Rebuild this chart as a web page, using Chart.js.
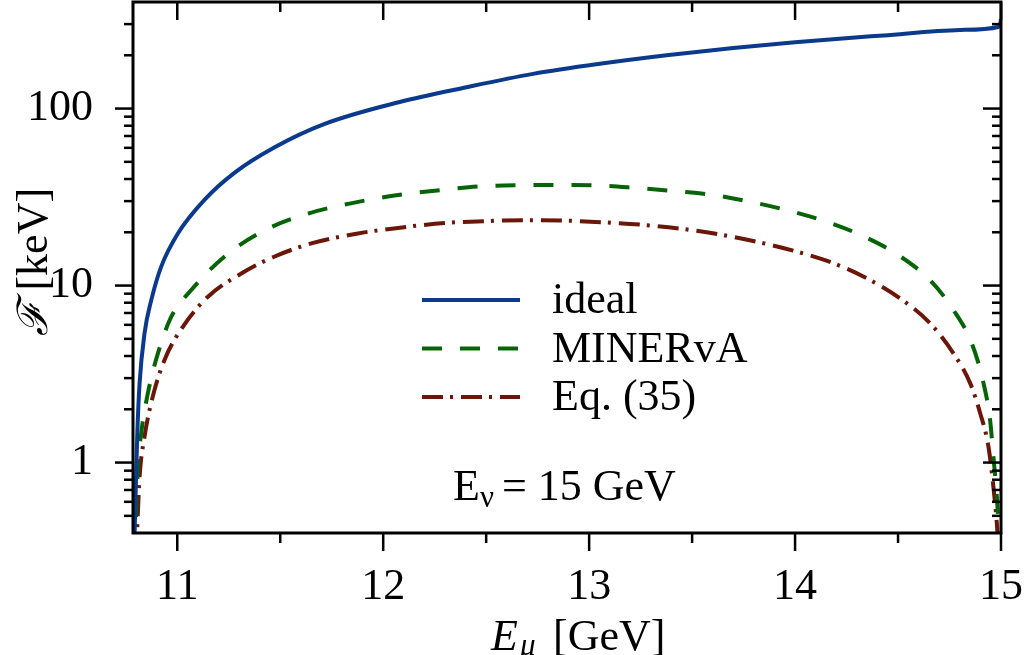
<!DOCTYPE html>
<html>
<head>
<meta charset="utf-8">
<title>F vs E_mu</title>
<script src="https://cdn.jsdelivr.net/npm/chart.js@4.4.1/dist/chart.umd.min.js"></script>
<style>
  html, body { margin: 0; padding: 0; background: #fff; }
  #wrap { width: 1026px; height: 655px; }
</style>
</head>
<body>
<div id="wrap"><canvas id="chart" width="1026" height="655"></canvas></div>
<script>
// E_nu = 15 GeV, F in keV
const idealE = [10.790, 10.797, 10.806, 10.817, 10.841, 10.874, 10.922, 11.003, 11.133, 11.279, 11.473, 11.716,
                12.080, 12.404, 12.728, 13.052, 13.376, 13.700, 14.000, 14.430, 14.800, 14.987, 14.996, 15.000];
const idealF = [0.30, 0.62, 1.47, 2.8, 5.37, 8.3, 12.8, 19.7, 30.6, 43.5, 60.5, 82,
                109, 132, 157, 179, 200, 220, 237, 259, 278, 289, 300, 320];

const minervaE = [10.795, 10.801, 10.809, 10.825, 10.857, 10.906, 10.971, 11.068, 11.230, 11.424, 11.635, 11.878,
                  12.064, 12.307, 12.485, 12.663, 12.858, 13.044, 13.230, 13.425, 13.611, 13.797, 13.975,
                  14.170, 14.340, 14.500, 14.656, 14.769, 14.858, 14.915, 14.947, 14.963, 14.980, 14.988, 14.993];
const minervaF = [0.30, 0.54, 0.95, 1.47, 2.46, 4.14, 6.67, 9.44, 14.6, 20.5, 25.5, 29.7,
                  32.4, 34.9, 36.4, 36.9, 37.0, 36.8, 35.6, 34.1, 32.4, 29.5, 26.4,
                  22.6, 18.8, 14.9, 10.7, 7.28, 4.72, 2.81, 1.74, 1.08, 0.64, 0.43, 0.30];

const eq35E = [10.800, 10.806, 10.817, 10.841, 10.881, 10.938, 11.027, 11.149, 11.311, 11.473, 11.651, 11.878,
               12.032, 12.307, 12.485, 12.679, 12.866, 13.060, 13.246, 13.440, 13.627, 13.813, 13.991,
               14.170, 14.348, 14.510, 14.656, 14.769, 14.850, 14.899, 14.939, 14.963, 14.980, 14.990];
const eq35F = [0.30, 0.44, 0.83, 1.40, 2.36, 3.80, 5.85, 8.65, 11.7, 14.6, 17.3, 19.7,
               20.9, 22.6, 23.1, 23.4, 23.3, 22.8, 22.1, 21.0, 19.5, 17.7, 15.75,
               13.6, 11.0, 8.47, 6.12, 4.14, 2.81, 1.90, 1.23, 0.73, 0.45, 0.30];

const seriesLabels = ['ideal', 'MINERvA', 'Eq. (35)'];
const xTicks = [11, 12, 13, 14, 15];
const xMinor = [11.5, 12.5, 13.5, 14.5];
const yTicks = [1, 10, 100];
const yMinor = [0.5, 0.6, 0.7, 0.8, 0.9, 2, 3, 4, 5, 6, 7, 8, 9,
                20, 30, 40, 50, 60, 70, 80, 90, 200, 300];

const FONT = '"Liberation Serif", "Times New Roman", serif';
const colors = ['#0b3a8c', '#066406', '#6a1608'];
const dashes = [[], [20, 18], [21, 7, 3, 8]];

function pts(xs, ys) {
    return xs.map((x, i) => ({ x: x, y: ys[i] }));
}

function noPad(s) {
    s.paddingTop = 0;
    s.paddingBottom = 0;
    s.paddingLeft = 0;
    s.paddingRight = 0;
}

// frame, inward/outward ticks, legend and labels
const decorPlugin = {
    id: 'decor',
    afterDraw(chart) {
        const ctx = chart.ctx;
        const a = chart.chartArea;
        const xs = chart.scales.x;
        const ys = chart.scales.y;
        ctx.save();
        ctx.strokeStyle = '#000';
        ctx.lineWidth = 3;
        ctx.strokeRect(a.left, a.top, a.right - a.left, a.bottom - a.top);

        const seg = (x1, y1, x2, y2) => {
            ctx.beginPath();
            ctx.moveTo(x1, y1);
            ctx.lineTo(x2, y2);
            ctx.stroke();
        };
        ctx.lineWidth = 2.5;
        xTicks.forEach(v => {
            const px = xs.getPixelForValue(v);
            seg(px, a.bottom, px, a.bottom + 18);
            seg(px, a.top, px, a.top + 18);
        });
        xMinor.forEach(v => {
            const px = xs.getPixelForValue(v);
            seg(px, a.bottom, px, a.bottom + 10);
            seg(px, a.top, px, a.top + 10);
        });
        yTicks.forEach(v => {
            const py = ys.getPixelForValue(v);
            seg(a.left - 18, py, a.left, py);
            seg(a.right - 18, py, a.right, py);
        });
        yMinor.forEach(v => {
            const py = ys.getPixelForValue(v);
            if (py < a.top || py > a.bottom) return;
            seg(a.left - 9, py, a.left, py);
            seg(a.right - 9, py, a.right, py);
        });

        // legend
        ctx.lineWidth = 4;
        ctx.fillStyle = '#000';
        ctx.textBaseline = 'alphabetic';
        ctx.font = '44px ' + FONT;
        seriesLabels.forEach((lab, i) => {
            const ly = 300 + i * 48.5;
            ctx.strokeStyle = colors[i];
            ctx.setLineDash(dashes[i]);
            seg(422, ly, 520, ly);
            ctx.setLineDash([]);
            ctx.fillText(lab, 552, ly + 13);
        });

        // E_nu annotation
        ctx.font = '44px ' + FONT;
        ctx.fillText('E', 453, 500);
        let w = ctx.measureText('E').width;
        ctx.font = '31px ' + FONT;
        ctx.fillText('\u03BD', 453 + w, 507);
        w += ctx.measureText('\u03BD').width + 8;
        ctx.font = '44px ' + FONT;
        ctx.fillText('= 15 GeV', 453 + w, 500);

        // x title
        ctx.font = 'italic 44px ' + FONT;
        ctx.fillText('E', 491, 650);
        ctx.font = 'italic 31px ' + FONT;
        ctx.fillText('\u03BC', 520, 655);
        ctx.font = '44px ' + FONT;
        ctx.fillText('[GeV]', 553, 650);

        // y title
        ctx.translate(47, 262);
        ctx.rotate(-Math.PI / 2);
        ctx.font = 'italic 42px ' + FONT;
        const fw = ctx.measureText('\u2131 ').width;
        ctx.font = '44px ' + FONT;
        const kw = ctx.measureText('[keV]').width;
        const x0 = -(fw + kw) / 2;
        ctx.font = 'italic 42px ' + FONT;
        ctx.fillText('\u2131 ', x0, 0);
        ctx.font = '44px ' + FONT;
        ctx.fillText('[keV]', x0 + fw, 0);
        ctx.restore();
    }
};

new Chart(document.getElementById('chart'), {
    type: 'line',
    data: {
        datasets: [
            { label: seriesLabels[0], data: pts(idealE, idealF) },
            { label: seriesLabels[1], data: pts(minervaE, minervaF) },
            { label: seriesLabels[2], data: pts(eq35E, eq35F) }
        ].map((d, i) => Object.assign(d, {
            borderColor: colors[i],
            borderWidth: 4,
            borderDash: dashes[i],
            pointRadius: 0,
            fill: false,
            cubicInterpolationMode: 'monotone'
        }))
    },
    options: {
        responsive: false,
        animation: false,
        devicePixelRatio: 1,
        layout: { padding: { top: 2, right: 25, left: 0, bottom: 0 } },
        plugins: { legend: { display: false }, tooltip: { enabled: false } },
        scales: {
            x: {
                type: 'linear',
                min: 10.785,
                max: 15,
                grid: { display: false },
                border: { display: false },
                afterBuildTicks: s => { s.ticks = xTicks.map(v => ({ value: v })); },
                afterFit: s => { s.height = 122; noPad(s); },
                ticks: {
                    color: '#000',
                    padding: 20,
                    maxRotation: 0,
                    font: { family: FONT, size: 44 },
                    callback: v => String(v)
                }
            },
            y: {
                type: 'logarithmic',
                min: 0.4,
                max: 400,
                grid: { display: false },
                border: { display: false },
                afterBuildTicks: s => { s.ticks = yTicks.map(v => ({ value: v })); },
                afterFit: s => { s.width = 133; noPad(s); },
                ticks: {
                    color: '#000',
                    padding: 32,
                    font: { family: FONT, size: 44 },
                    callback: v => String(v)
                }
            }
        }
    },
    plugins: [decorPlugin]
});
</script>
</body>
</html>
